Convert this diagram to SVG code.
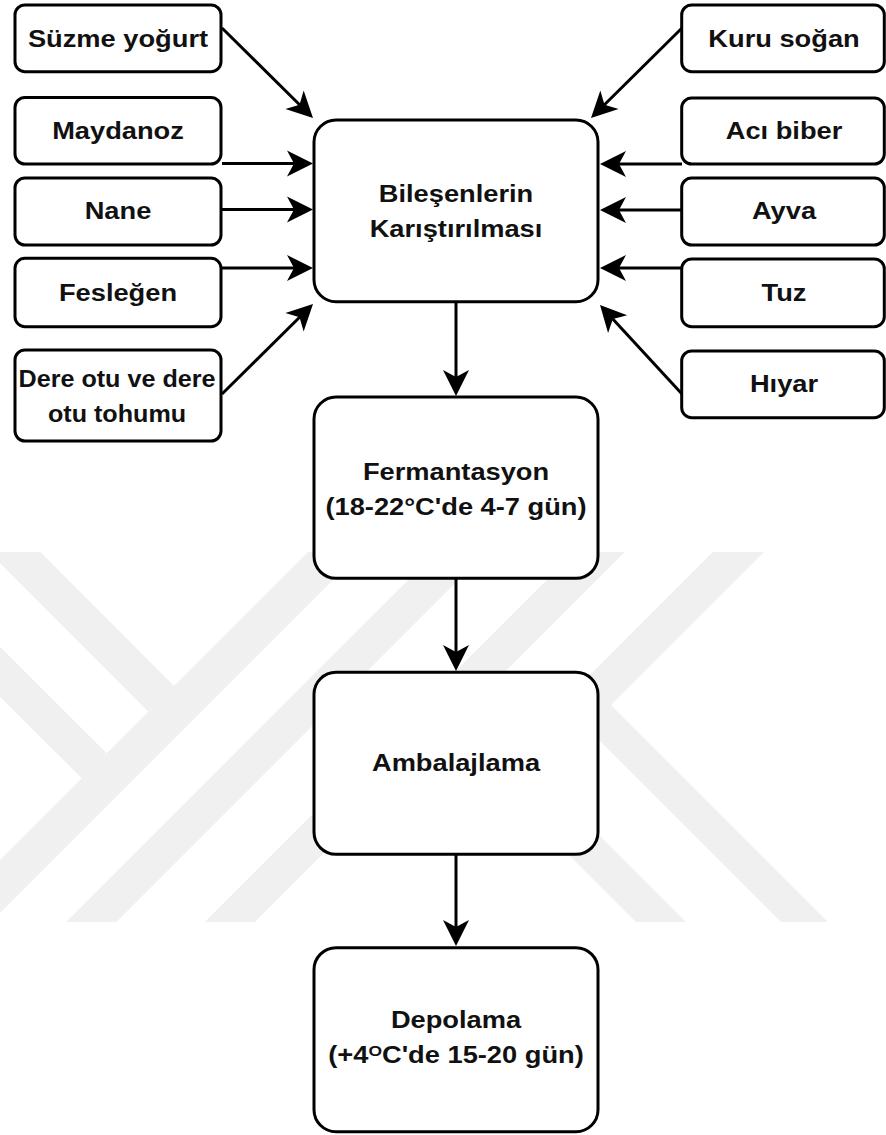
<svg xmlns="http://www.w3.org/2000/svg" width="886" height="1135" viewBox="0 0 886 1135">
<style>
.box{fill:#fff;stroke:#000;stroke-width:3}
.t{font-family:"Liberation Sans",Arial,sans-serif;font-weight:bold;font-size:23.5px;fill:#111;text-anchor:middle}
.c{fill:none;stroke:#000;stroke-width:3;marker-end:url(#arr)}
.wm{fill:#f0f0f0}
</style>
<defs>
<marker id="arr" viewBox="-27 -14 28 28" markerWidth="28" markerHeight="28" refX="-10" refY="0" orient="auto" markerUnits="userSpaceOnUse">
<path d="M0,0 L-26,-13 L-19,0 L-26,13 Z" fill="#000"/>
</marker>
</defs>
<rect width="886" height="1135" fill="#fff"/>
<g id="watermark">
<polygon class="wm" points="-10,552 40.3,552 174.2,685.9 148.4,711.7 -10,553.3"/>
<polygon class="wm" points="-10,636.7 106.7,753.3 81.7,778.3 -10,686.7"/>
<polygon class="wm" points="308,552 361,552 -9,922 -10,922 -10,870"/>
<polygon class="wm" points="66.3,922 436.3,552 486.3,552 116.3,922"/>
<polygon class="wm" points="204.7,922 574.7,552 624.7,552 254.7,922"/>
<polygon class="wm" points="712.7,552 764.3,552 611,705 828,922 781,922 562,703"/>
<polygon class="wm" points="470.3,706.3 686,922 636,922 445.3,731.3"/>
</g>
<g id="connectors">
<path class="c" d="M222,28 L305.9,111"/>
<path class="c" d="M222,163.5 L303,163.5"/>
<path class="c" d="M222,209.5 L303,209.5"/>
<path class="c" d="M222,268 L303,268"/>
<path class="c" d="M222,394 L305.9,311"/>
<path class="c" d="M682,28 L598.1,111"/>
<path class="c" d="M682,164 L610,164"/>
<path class="c" d="M682,210 L610,210"/>
<path class="c" d="M682,268 L610,268"/>
<path class="c" d="M682,394 L606.8,312.4"/>
<path class="c" d="M456,301.7 L456,386"/>
<path class="c" d="M456,578.3 L456,661"/>
<path class="c" d="M456,854.3 L456,936"/>
</g>
<g id="suzme">
<rect class="box" x="15" y="5" width="206" height="66.7" rx="10"/>
<text class="t" transform="matrix(1.16,0,0,1,118,0)" y="46.7">Süzme yoğurt</text>
</g>
<g id="maydanoz">
<rect class="box" x="15" y="97.5" width="206" height="66.5" rx="10"/>
<text class="t" transform="matrix(1.16,0,0,1,118,0)" y="139">Maydanoz</text>
</g>
<g id="nane">
<rect class="box" x="15" y="178" width="206" height="67" rx="10"/>
<text class="t" transform="matrix(1.16,0,0,1,118,0)" y="219.5">Nane</text>
</g>
<g id="feslegen">
<rect class="box" x="15" y="258.3" width="206" height="68.4" rx="10"/>
<text class="t" transform="matrix(1.16,0,0,1,118,0)" y="300.8">Fesleğen</text>
</g>
<g id="dereotu">
<rect class="box" x="15" y="350" width="206" height="91" rx="10"/>
<text class="t" transform="matrix(1.07,0,0,1,117,0)" y="386.7">Dere otu ve dere</text>
<text class="t" transform="matrix(1.07,0,0,1,117,0)" y="421.7">otu tohumu</text>
</g>
<g id="kurusogan">
<rect class="box" x="681.7" y="5" width="202.6" height="66.7" rx="10"/>
<text class="t" transform="matrix(1.16,0,0,1,784,0)" y="46.7">Kuru soğan</text>
</g>
<g id="acibiber">
<rect class="box" x="681.7" y="98" width="202.6" height="66" rx="10"/>
<text class="t" transform="matrix(1.16,0,0,1,784,0)" y="139">Acı biber</text>
</g>
<g id="ayva">
<rect class="box" x="681.7" y="178" width="202.6" height="67" rx="10"/>
<text class="t" transform="matrix(1.16,0,0,1,784,0)" y="219.5">Ayva</text>
</g>
<g id="tuz">
<rect class="box" x="681.7" y="259" width="202.6" height="67.7" rx="10"/>
<text class="t" transform="matrix(1.16,0,0,1,784,0)" y="301">Tuz</text>
</g>
<g id="hiyar">
<rect class="box" x="681.7" y="351" width="202.6" height="66.7" rx="10"/>
<text class="t" transform="matrix(1.16,0,0,1,784,0)" y="392">Hıyar</text>
</g>
<g id="karistirma">
<rect class="box" x="314" y="120" width="284" height="181.7" rx="22"/>
<text class="t" transform="matrix(1.16,0,0,1,456,0)" y="201.7">Bileşenlerin</text>
<text class="t" transform="matrix(1.16,0,0,1,456,0)" y="236.7">Karıştırılması</text>
</g>
<g id="fermantasyon">
<rect class="box" x="314" y="397" width="284" height="181.3" rx="22"/>
<text class="t" transform="matrix(1.16,0,0,1,456,0)" y="480">Fermantasyon</text>
<text class="t" transform="matrix(1.16,0,0,1,456,0)" y="515">(18-22°C'de 4-7 gün)</text>
</g>
<g id="ambalajlama">
<rect class="box" x="314" y="672.3" width="284" height="182" rx="22"/>
<text class="t" transform="matrix(1.16,0,0,1,456,0)" y="771">Ambalajlama</text>
</g>
<g id="depolama">
<rect class="box" x="314" y="947.7" width="284" height="184" rx="22"/>
<text class="t" transform="matrix(1.16,0,0,1,456,0)" y="1028">Depolama</text>
<text class="t" transform="matrix(1.16,0,0,1,456,0)" y="1063">(+4<tspan font-size="15" dy="-7">O</tspan><tspan dy="7">C'de 15-20 gün)</tspan></text>
</g>
</svg>
